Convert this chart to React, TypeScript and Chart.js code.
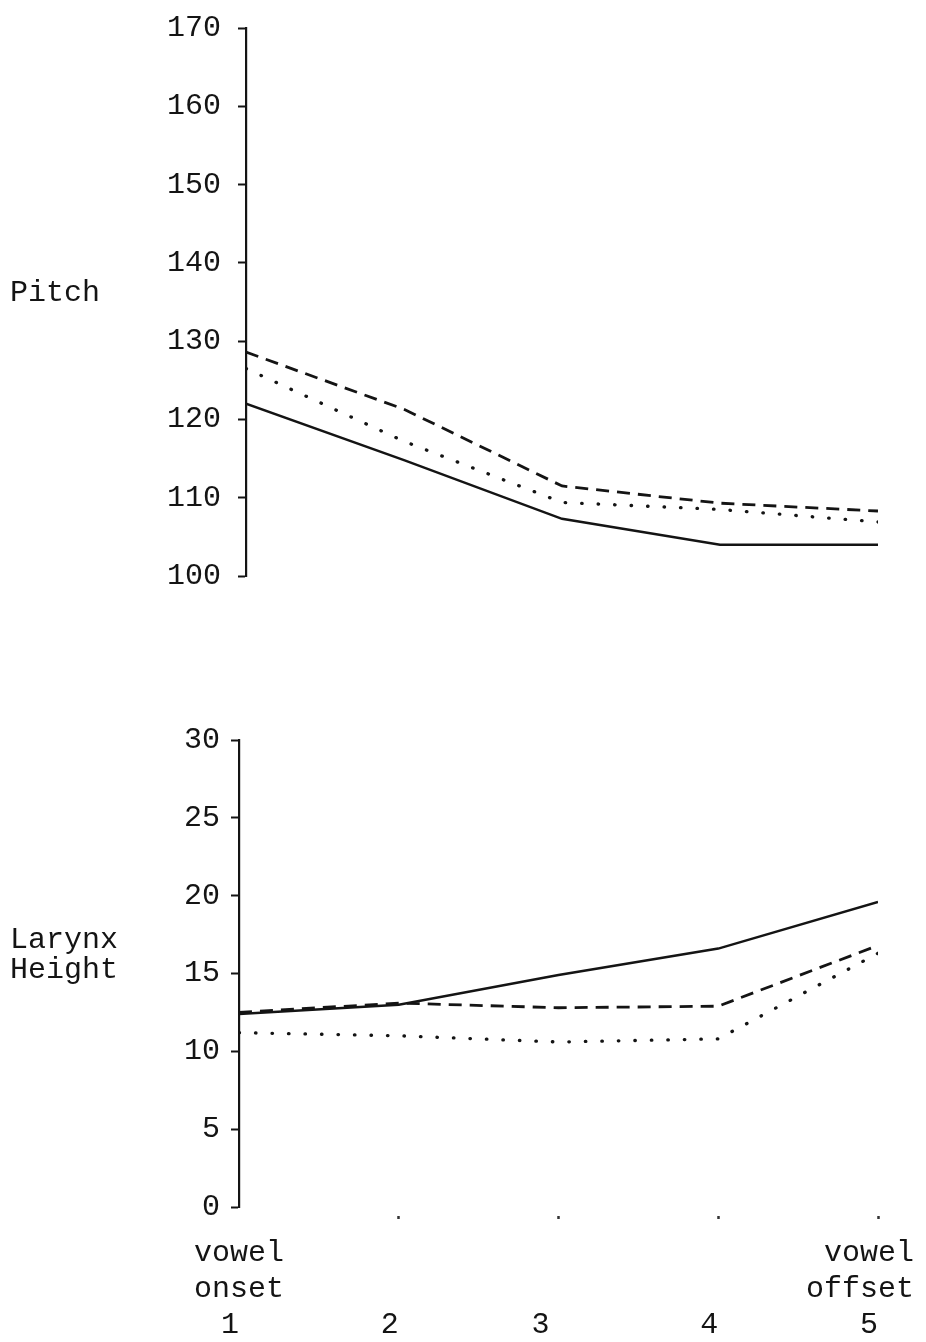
import React, { useEffect, useRef } from "react";
import { Chart, registerables } from "chart.js";

Chart.register(...registerables);

// ---- data ----
const xPositions = [1, 2, 3, 4, 5];
const xTickLabels: string[][] = [
  ["vowel", "onset", "1 "],
  ["", "", "2 "],
  ["", "", "3  "],
  ["", "", "4 "],
  [" vowel  ", "offset  ", "   5    "],
];

const pitchSolid = [122, 114.8, 107.3, 104, 104];
const pitchDashed = [128.6, 121.3, 111.5, 109.3, 108.3];
const pitchDotted = [126.5, 117.2, 109.4, 108.5, 106.9];

const larynxSolid = [12.4, 13.0, 14.9, 16.6, 19.6];
const larynxDashed = [12.5, 13.1, 12.8, 12.9, 16.8];
const larynxDotted = [11.2, 11.0, 10.6, 10.8, 16.3];

const pitchRange = { min: 100, max: 170, step: 10 };
const larynxRange = { min: 0, max: 30, step: 5 };

const pitchTitle = ["Pitch"];
const larynxTitle = ["Larynx", "Height"];

// ---- styling ----
const INK = "#141414";
const FONT_FAMILY = "'Liberation Mono', 'Courier New', monospace";
const FONT_SIZE = 30;
const W = 926;

const toPoints = (ys: number[]) => xPositions.map((x, i) => ({ x, y: ys[i] }));

const sideTitle = {
  id: "sideTitle",
  afterDraw(chart: any, _args: any, opts: any) {
    const ctx = chart.ctx;
    ctx.save();
    ctx.font = `${FONT_SIZE}px ${FONT_FAMILY}`;
    ctx.fillStyle = INK;
    ctx.textAlign = "left";
    ctx.textBaseline = "middle";
    (opts.lines || []).forEach((line: string, i: number) => {
      ctx.fillText(line, opts.x, opts.y + i * opts.lineHeight);
    });
    ctx.restore();
  },
};

function makeDatasets(solid: number[], dashed: number[], dotted: number[]) {
  const base = {
    borderColor: INK,
    pointRadius: 0,
    tension: 0,
    fill: false,
  };
  return [
    { ...base, label: "solid", data: toPoints(solid), borderWidth: 2.5 },
    { ...base, label: "dashed", data: toPoints(dashed), borderWidth: 2.8, borderDash: [13, 8] },
    {
      ...base,
      label: "dotted",
      data: toPoints(dotted),
      borderWidth: 3.3,
      borderDash: [0.5, 16],
      borderCapStyle: "round",
    },
  ];
}

function buildConfig(opts: {
  solid: number[];
  dashed: number[];
  dotted: number[];
  range: { min: number; max: number; step: number };
  axisWidth: number;
  padTop: number;
  padBottom: number;
  tickPad: number;
  showX: boolean;
  xAxisHeight: number;
  title: string[];
  titleY: number;
}): any {
  return {
    type: "line",
    data: { datasets: makeDatasets(opts.solid, opts.dashed, opts.dotted) },
    plugins: [sideTitle],
    options: {
      animation: false,
      responsive: false,
      devicePixelRatio: 1,
      events: [],
      layout: { padding: { left: 0, right: W - 878, top: opts.padTop, bottom: opts.padBottom } },
      plugins: {
        legend: { display: false },
        tooltip: { enabled: false },
        sideTitle: { lines: opts.title, x: 10, y: opts.titleY, lineHeight: 30 },
      },
      scales: {
        x: {
          type: "linear",
          min: 1,
          max: 5,
          display: opts.showX,
          afterFit: (scale: any) => {
            if (opts.showX) scale.height = opts.xAxisHeight;
            scale.paddingLeft = 0;
            scale.paddingRight = 0;
          },
          afterBuildTicks: (scale: any) => {
            scale.ticks = xPositions.map((v) => ({ value: v }));
          },
          border: { display: false },
          grid: {
            display: true,
            drawOnChartArea: false,
            drawTicks: true,
            tickLength: 12,
            tickWidth: 2.5,
            tickColor: (ctx: any) =>
              ctx.tick && ctx.tick.value === 1 ? "rgba(0,0,0,0)" : "#333",
            tickBorderDash: [0.01, 9, 3, 100],
          },
          ticks: {
            autoSkip: false,
            maxRotation: 0,
            minRotation: 0,
            padding: 16,
            color: INK,
            font: { family: FONT_FAMILY, size: FONT_SIZE, lineHeight: 1.2 },
            callback: (value: number) => xTickLabels[xPositions.indexOf(value)] ?? "",
          },
        },
        y: {
          type: "linear",
          min: opts.range.min,
          max: opts.range.max,
          afterFit: (scale: any) => {
            scale.width = opts.axisWidth;
            scale.paddingTop = 0;
            scale.paddingBottom = 0;
          },
          border: { display: true, color: INK, width: 2.2 },
          grid: {
            display: true,
            drawOnChartArea: false,
            drawTicks: true,
            tickLength: 8,
            tickWidth: 2,
            tickColor: INK,
          },
          ticks: {
            stepSize: opts.range.step,
            padding: opts.tickPad,
            color: INK,
            font: { family: FONT_FAMILY, size: FONT_SIZE },
          },
        },
      },
    },
  };
}

export default function App() {
  const topRef = useRef<HTMLCanvasElement | null>(null);
  const bottomRef = useRef<HTMLCanvasElement | null>(null);

  useEffect(() => {
    const charts: Chart[] = [];
    if (topRef.current) {
      charts.push(
        new Chart(
          topRef.current,
          buildConfig({
            solid: pitchSolid,
            dashed: pitchDashed,
            dotted: pitchDotted,
            range: pitchRange,
            axisWidth: 246,
            padTop: 28,
            padBottom: 620 - 576,
            tickPad: 17,
            showX: false,
            xAxisHeight: 0,
            title: pitchTitle,
            titleY: 293,
          })
        )
      );
    }
    if (bottomRef.current) {
      charts.push(
        new Chart(
          bottomRef.current,
          buildConfig({
            solid: larynxSolid,
            dashed: larynxDashed,
            dotted: larynxDotted,
            range: larynxRange,
            axisWidth: 239,
            padTop: 740 - 620,
            padBottom: 0,
            tickPad: 11,
            showX: true,
            xAxisHeight: 722 - (1207 - 620),
            title: larynxTitle,
            titleY: 940 - 620,
          })
        )
      );
    }
    return () => charts.forEach((c) => c.destroy());
  }, []);

  return (
    <div style={{ position: "absolute", left: 0, top: 0, width: W, height: 1342, background: "#fff" }}>
      <canvas
        ref={topRef}
        width={W}
        height={620}
        style={{ position: "absolute", left: 0, top: 0, width: W, height: 620 }}
      />
      <canvas
        ref={bottomRef}
        width={W}
        height={722}
        style={{ position: "absolute", left: 0, top: 620, width: W, height: 722 }}
      />
    </div>
  );
}
